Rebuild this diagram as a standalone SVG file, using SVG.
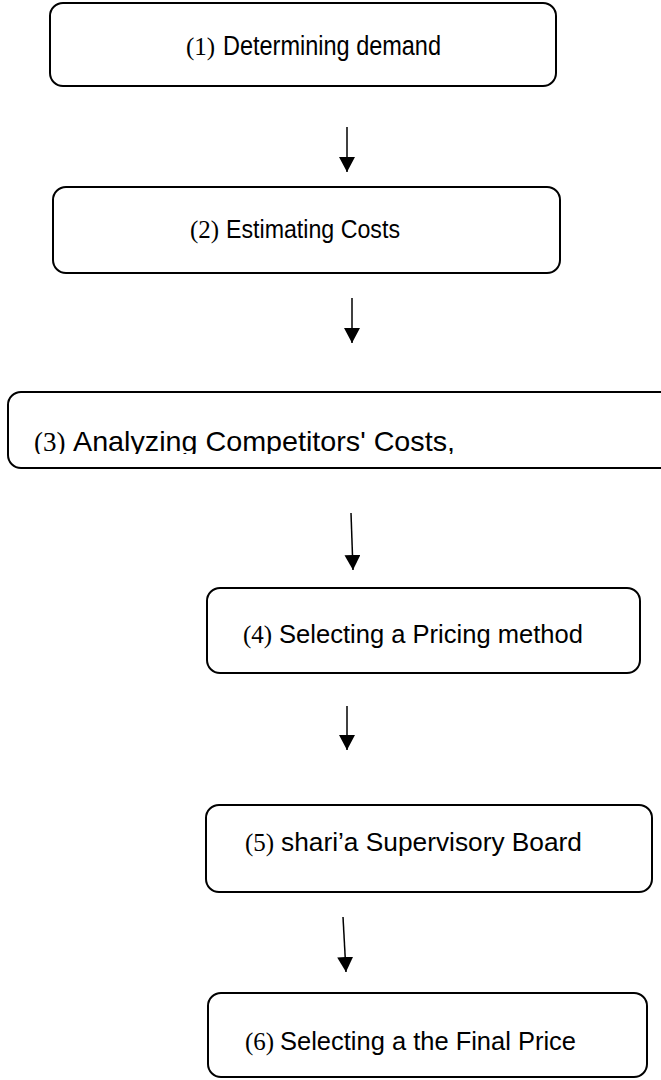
<svg xmlns="http://www.w3.org/2000/svg" width="661" height="1080" viewBox="0 0 661 1080">
<style>
.box{fill:#fff;stroke:#000;stroke-width:2}
.sans{font-family:"Liberation Sans",Arial,sans-serif;fill:#000}
.ser{font-family:"Liberation Serif","Times New Roman",serif;fill:#000}
.conn line{stroke:#000;stroke-width:1.5}
</style>
<defs>
<marker id="ah" markerWidth="16" markerHeight="16" viewBox="0 0 16 16" refX="15" refY="8" orient="auto" markerUnits="userSpaceOnUse">
<path d="M0,0 L15,8 L0,16 Z" fill="#000"/>
</marker>
<clipPath id="c3"><rect x="0" y="380" width="661" height="74"/></clipPath>
</defs>
<g id="n1">
<rect class="box" x="50" y="3" width="506" height="83" rx="13"/>
<text class="ser" x="186" y="55" font-size="25">(1)</text>
<text class="sans" x="223" y="55" font-size="27" textLength="218" lengthAdjust="spacingAndGlyphs">Determining demand</text>
</g>
<g id="n2">
<rect class="box" x="53" y="187" width="507" height="86" rx="13"/>
<text class="ser" x="190" y="238" font-size="25">(2)</text>
<text class="sans" x="226" y="238" font-size="26" textLength="174" lengthAdjust="spacingAndGlyphs">Estimating Costs</text>
</g>
<g id="n3">
<rect class="box" x="8" y="392" width="680" height="76" rx="13"/>
<g clip-path="url(#c3)">
<text class="ser" x="34" y="451" font-size="27">(3)</text>
<text class="sans" x="73" y="451" font-size="28" textLength="382" lengthAdjust="spacingAndGlyphs">Analyzing Competitors' Costs,</text>
</g>
</g>
<g id="n4">
<rect class="box" x="207" y="588" width="433" height="85" rx="13"/>
<text class="ser" x="243" y="643" font-size="25">(4)</text>
<text class="sans" x="279" y="643" font-size="26" textLength="304" lengthAdjust="spacingAndGlyphs">Selecting a Pricing method</text>
</g>
<g id="n5">
<rect class="box" x="206" y="805" width="446" height="87" rx="13"/>
<text class="ser" x="245" y="851" font-size="25">(5)</text>
<text class="sans" x="281" y="851" font-size="26" textLength="301" lengthAdjust="spacingAndGlyphs">shari’a Supervisory Board</text>
</g>
<g id="n6">
<rect class="box" x="208" y="993" width="439" height="84" rx="13"/>
<text class="ser" x="245" y="1050" font-size="25">(6)</text>
<text class="sans" x="280" y="1050" font-size="26" textLength="296" lengthAdjust="spacingAndGlyphs">Selecting a the Final Price</text>
</g>
<g id="connectors" class="conn">
<line x1="347" y1="127" x2="347" y2="172" marker-end="url(#ah)"/>
<line x1="352" y1="298" x2="352" y2="343" marker-end="url(#ah)"/>
<line x1="351" y1="513" x2="353" y2="570" marker-end="url(#ah)"/>
<line x1="347" y1="706" x2="347" y2="750" marker-end="url(#ah)"/>
<line x1="343" y1="917" x2="346" y2="972" marker-end="url(#ah)"/>
</g>
</svg>
